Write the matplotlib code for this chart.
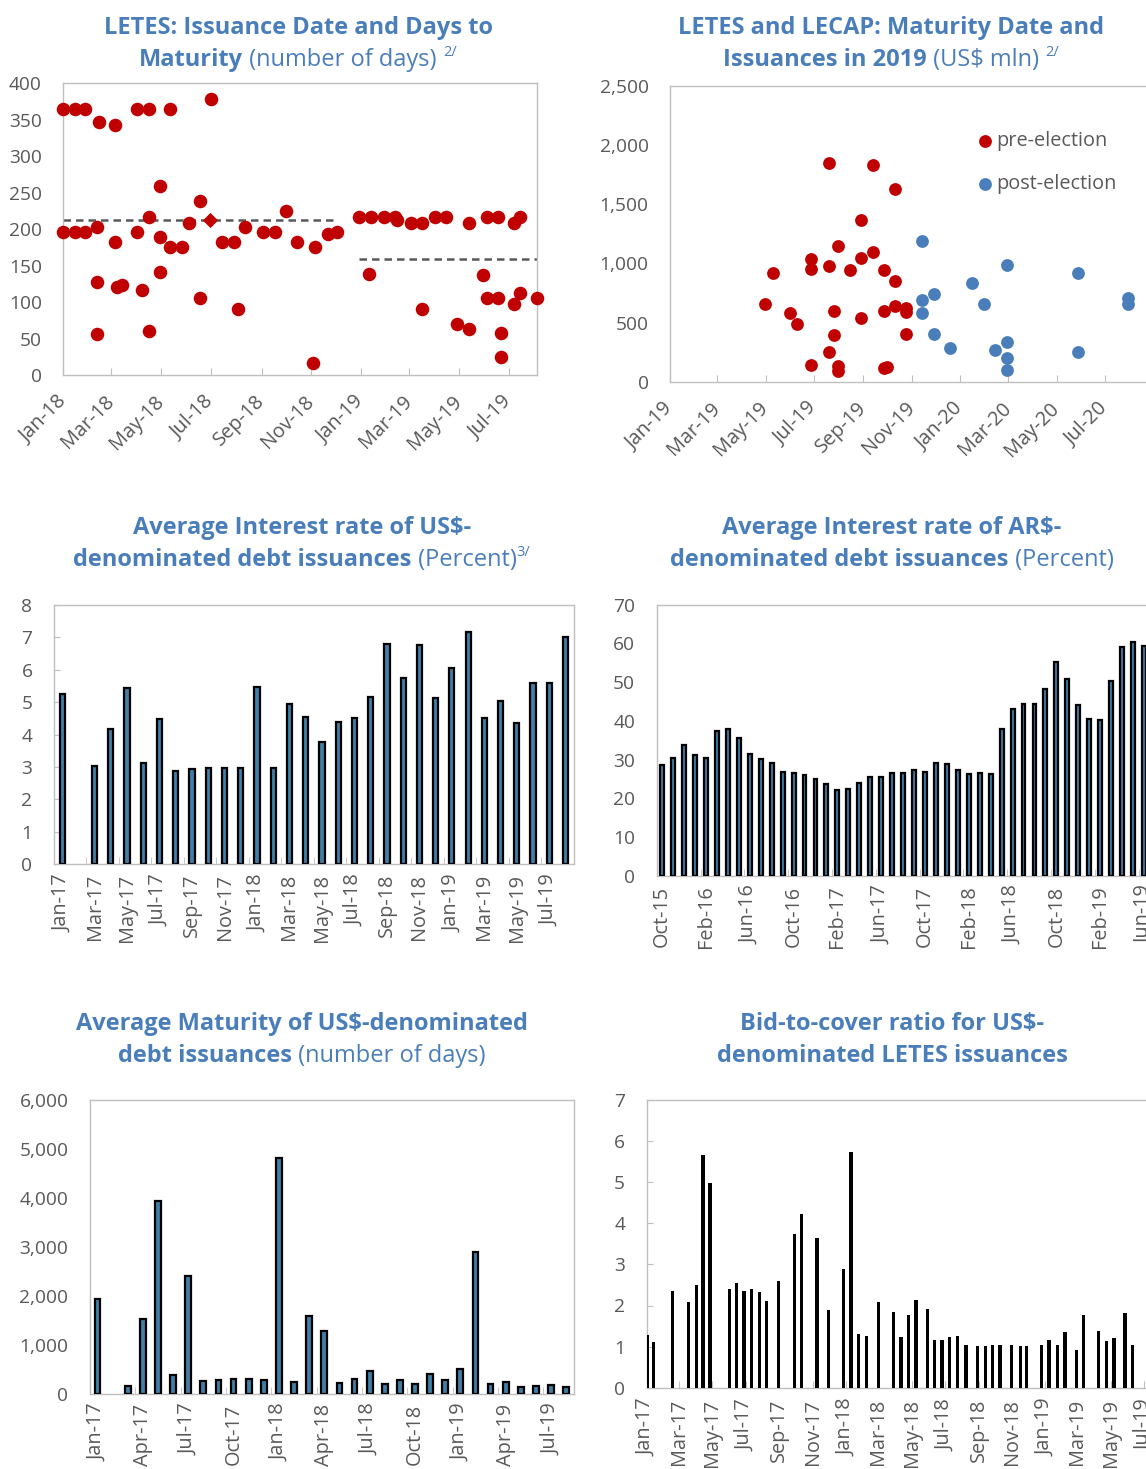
import numpy as np
import pandas as pd
import matplotlib
matplotlib.use("Agg")
import matplotlib.pyplot as plt
import matplotlib.dates as mdates
from matplotlib.ticker import FuncFormatter, FixedLocator

plt.rcParams['font.family'] = ['Open Sans', 'DejaVu Sans']

# --- panel 1: LETES issuance date vs days to maturity ---
letes_dates = ['2018-01-01', '2018-01-01', '2018-01-15', '2018-01-15', '2018-01-28', '2018-01-28',
               '2018-02-11', '2018-02-11', '2018-02-11', '2018-02-14',
               '2018-03-05', '2018-03-05', '2018-03-08', '2018-03-14',
               '2018-04-01', '2018-04-01', '2018-04-08', '2018-04-16', '2018-04-16', '2018-04-16',
               '2018-04-30', '2018-04-30', '2018-04-30', '2018-05-12', '2018-05-12', '2018-05-27',
               '2018-06-04', '2018-06-18', '2018-06-18', '2018-07-01',
               '2018-07-15', '2018-07-29', '2018-08-03', '2018-08-12', '2018-09-03', '2018-09-17',
               '2018-10-01', '2018-10-14', '2018-11-03', '2018-11-05', '2018-11-22', '2018-12-03',
               '2018-12-30', '2019-01-11', '2019-01-13', '2019-01-29', '2019-02-12', '2019-02-14',
               '2019-03-03', '2019-03-17', '2019-03-17', '2019-04-01', '2019-04-15', '2019-04-29',
               '2019-05-13', '2019-05-13', '2019-05-30', '2019-06-04', '2019-06-04', '2019-06-18',
               '2019-06-18', '2019-06-22', '2019-06-22', '2019-07-08', '2019-07-08', '2019-07-15',
               '2019-07-15', '2019-08-05']
letes_days = [365, 196, 365, 196, 365, 196,
              203, 127, 56, 347,
              343, 182, 120, 123,
              365, 196, 116, 365, 216, 61,
              259, 189, 141, 365, 176, 176,
              209, 239, 106, 378,
              182, 182, 91, 203, 196, 196,
              225, 182, 17, 175, 194, 196,
              216, 139, 216, 216, 216, 212,
              209, 209, 91, 216, 216, 70,
              209, 63, 137, 216, 106, 216,
              106, 58, 24, 209, 97, 216,
              113, 106]
diamond_date = '2018-06-30'
diamond_days = 212
avg_2018 = 212.5
avg_2018_span = ['2018-01-01', '2018-12-04']
avg_2019 = 158.6
avg_2019_span = ['2018-12-30', '2019-08-05']

# --- panel 2: LETES/LECAP maturity date and issuance amount ---
pre_dates = ['2019-04-30', '2019-05-10', '2019-06-01', '2019-06-10', '2019-06-27', '2019-06-27',
             '2019-06-27', '2019-07-20', '2019-07-20', '2019-07-20', '2019-07-26', '2019-07-26',
             '2019-07-31', '2019-07-31', '2019-07-31', '2019-08-15', '2019-08-29', '2019-08-29',
             '2019-08-29', '2019-09-13', '2019-09-13', '2019-09-27', '2019-09-27', '2019-09-27',
             '2019-10-01', '2019-10-11', '2019-10-11', '2019-10-11', '2019-10-25', '2019-10-25',
             '2019-10-25']
pre_amount = [657, 922, 583, 488, 1040, 953,
              138, 1846, 978, 254, 595, 395,
              1144, 135, 87, 944, 1370, 1043,
              538, 1835, 1094, 944, 595, 116,
              127, 1632, 848, 637, 623, 589,
              406]
post_dates = ['2019-11-14', '2019-11-14', '2019-11-14', '2019-11-29', '2019-11-29', '2019-12-19',
              '2020-01-16', '2020-01-31', '2020-02-14', '2020-02-29', '2020-02-29', '2020-02-29',
              '2020-02-29', '2020-05-28', '2020-05-28', '2020-07-30', '2020-07-30']
post_amount = [1189, 688, 583, 741, 403, 285,
               837, 657, 265, 986, 338, 200,
               96, 922, 254, 705, 660]

# --- panel 3: average interest rate, US$ issuances (monthly) ---
usd_rate_months = pd.period_range('2017-01', '2019-08', freq='M')
usd_rate = [5.24, np.nan, 3.04, 4.16, 5.43, 3.11, 4.48, 2.88, 2.93, 2.96, 2.96, 2.96,
            5.47, 2.96, 4.94, 4.55, 3.78, 4.39, 4.52, 5.17, 6.80, 5.75, 6.76, 5.13,
            6.06, 7.15, 4.52, 5.02, 4.35, 5.60, 5.60, 7.02]

# --- panel 4: average interest rate, AR$ issuances (monthly) ---
ars_rate_months = pd.period_range('2015-10', '2019-06', freq='M')
ars_rate = [28.6, 30.5, 33.7, 31.2, 30.5, 37.5, 37.9, 35.6, 31.4, 30.1,
            29.2, 26.9, 26.5, 26.0, 25.0, 23.7, 22.1, 22.4, 23.9, 25.6,
            25.6, 26.5, 26.5, 27.2, 26.9, 29.2, 28.8, 27.2, 26.3, 26.5,
            26.3, 37.9, 43.1, 44.3, 44.3, 48.2, 55.1, 50.9, 44.0, 40.5,
            40.1, 50.3, 59.0, 60.3, 59.3]

# --- panel 5: average maturity, US$ issuances (monthly) ---
usd_mat_months = pd.period_range('2017-01', '2019-08', freq='M')
usd_maturity = [1941, np.nan, 157, 1532, 3943, 381, 2404, 252, 272, 306, 306, 272,
                4808, 232, 1587, 1280, 225, 306, 463, 204, 279, 204, 409, 279,
                511, 2894, 204, 232, 129, 157, 177, 129]

# --- panel 6: bid-to-cover ratio per auction ---
btc_dates = ['2017-01-02', '2017-01-14', '2017-02-17', '2017-03-19', '2017-04-02', '2017-04-14',
             '2017-04-27', '2017-06-01', '2017-06-15', '2017-06-28', '2017-07-12', '2017-07-27',
             '2017-08-09', '2017-08-30', '2017-09-29', '2017-10-12', '2017-11-09', '2017-11-30',
             '2017-12-27', '2018-01-10', '2018-01-24', '2018-02-07', '2018-03-02', '2018-03-29',
             '2018-04-12', '2018-04-26', '2018-05-09', '2018-05-30', '2018-06-12', '2018-06-26',
             '2018-07-10', '2018-07-24', '2018-08-09', '2018-08-30', '2018-09-13', '2018-09-27',
             '2018-10-10', '2018-10-31', '2018-11-16', '2018-11-28', '2018-12-25', '2019-01-08',
             '2019-01-24', '2019-02-06', '2019-02-27', '2019-03-12', '2019-04-09', '2019-04-23',
             '2019-05-07', '2019-05-27', '2019-06-10']
btc_ratio = [1.28, 1.10, 2.36, 2.08, 2.51, 5.65,
             4.98, 2.39, 2.55, 2.36, 2.39, 2.33,
             2.12, 2.60, 3.73, 4.22, 3.64, 1.90,
             2.90, 5.74, 1.31, 1.26, 2.08, 1.84,
             1.23, 1.78, 2.14, 1.91, 1.17, 1.17,
             1.23, 1.26, 1.05, 1.01, 1.01, 1.05,
             1.05, 1.05, 1.01, 1.01, 1.05, 1.17,
             1.05, 1.35, 0.92, 1.78, 1.38, 1.14,
             1.20, 1.81, 1.05]

RED = '#c00000'
BLUE = '#4a7ebb'
BAR = '#3f7fa8'
TITLE_C = '#4a7ebb'
GREY_T = '#595959'
GREY_S = '#bfbfbf'
YTICK_FS = 13.8
XTICK_FS = 14.3

W, H = 1146, 1469
fig = plt.figure(figsize=(W / 100, H / 100), dpi=100)


def ax_px(left, right, top, bottom):
    return fig.add_axes([left / W, 1 - bottom / H, (right - left) / W, (bottom - top) / H])


def style(ax):
    for s in ax.spines.values():
        s.set_color(GREY_S)
        s.set_linewidth(1.0)
    ax.tick_params(axis='both', colors=GREY_S, labelcolor=GREY_T)
    ax.tick_params(axis='y', length=0, pad=15.5, labelsize=YTICK_FS)
    ax.tick_params(axis='x', labelsize=XTICK_FS)


def date_xaxis(ax, rot):
    ax.xaxis.set_major_locator(mdates.MonthLocator(bymonth=[1, 3, 5, 7, 9, 11]))
    ax.xaxis.set_major_formatter(mdates.DateFormatter('%b-%y'))
    ax.tick_params(axis='x', direction='in', length=5)
    if rot == 45:
        ax.tick_params(axis='x', pad=17)
        for lab in ax.get_xticklabels():
            lab.set_rotation(45)
            lab.set_ha('right')
            lab.set_va('center')
            lab.set_rotation_mode('anchor')
    else:
        ax.tick_params(axis='x', labelrotation=90, pad=8)


def cat_xaxis(ax, months, step, n_slots):
    pos = np.arange(len(months))
    ax.set_xlim(-0.5, n_slots - 0.5)
    ax.xaxis.set_major_locator(FixedLocator(pos[::step]))
    ax.set_xticklabels([m.strftime('%b-%y') for m in months[::step]], rotation=90)
    ax.xaxis.set_minor_locator(FixedLocator(np.arange(step - 0.5, n_slots, step)))
    ax.tick_params(axis='x', which='major', length=0, pad=7)
    ax.tick_params(axis='x', which='minor', direction='in', length=5, color=GREY_S)


comma = FuncFormatter(lambda v, p: f'{v:,.0f}')

# panel 1
ax1 = ax_px(63.3, 537.3, 83.3, 375)
style(ax1)
ax1.scatter(pd.to_datetime(letes_dates), letes_days, s=95, color=RED, lw=0, zorder=3, clip_on=False)
ax1.scatter(pd.to_datetime([diamond_date]), [diamond_days], s=60, marker='D', color=RED, lw=0, zorder=3)
ax1.plot(pd.to_datetime(avg_2018_span), [avg_2018] * 2, ls=(0, (3, 2)), color=GREY_T, lw=1.8, zorder=2)
ax1.plot(pd.to_datetime(avg_2019_span), [avg_2019] * 2, ls=(0, (3, 2)), color=GREY_T, lw=1.8, zorder=2)
ax1.set_xlim(pd.Timestamp('2018-01-01'), pd.Timestamp('2019-08-05'))
ax1.set_ylim(0, 400)
ax1.set_yticks(range(0, 401, 50))
date_xaxis(ax1, 45)

# panel 2
ax2 = ax_px(670.1, 1153.5, 86, 381.7)
style(ax2)
ax2.scatter(pd.to_datetime(pre_dates), pre_amount, s=85, color=RED, lw=0, label='pre-election', zorder=3)
ax2.scatter(pd.to_datetime(post_dates), post_amount, s=85, color=BLUE, lw=0, label='post-election', zorder=3)
ax2.set_xlim(pd.Timestamp('2019-01-01'), pd.Timestamp('2020-08-31'))
ax2.set_ylim(0, 2500)
ax2.set_yticks(range(0, 2501, 500))
ax2.yaxis.set_major_formatter(comma)
date_xaxis(ax2, 45)
ax2.legend(loc='upper left', bbox_to_anchor=(961 / W, 1 - 113 / H), bbox_transform=fig.transFigure,
           frameon=False, fontsize=14.3, labelcolor=GREY_T, handlelength=0.6, handletextpad=0.25,
           labelspacing=1.15, scatterpoints=1)

# panel 3
ax3 = ax_px(54, 573.7, 604.7, 864.3)
style(ax3)
ax3.bar(np.arange(len(usd_rate)), usd_rate, width=0.32, color=BAR, edgecolor='black', lw=1.6, zorder=3)
ax3.set_ylim(0, 8)
ax3.set_yticks(range(0, 9))
ax3.tick_params(axis='y', direction='in', length=4, color=GREY_S)
cat_xaxis(ax3, usd_rate_months, 2, len(usd_rate_months))

# panel 4
ax4 = ax_px(656.7, 656.7 + 47 * 10.95, 604.7, 875.7)
style(ax4)
ax4.bar(np.arange(len(ars_rate)), ars_rate, width=0.36, color=BAR, edgecolor='black', lw=1.6, zorder=3)
ax4.set_ylim(0, 70)
ax4.set_yticks(range(0, 71, 10))
cat_xaxis(ax4, ars_rate_months, 4, 47)

# panel 5
ax5 = ax_px(90, 573.7, 1100, 1393.7)
style(ax5)
ax5.bar(np.arange(len(usd_maturity)), usd_maturity, width=0.38, color=BAR, edgecolor='black', lw=1.6, zorder=3)
ax5.set_ylim(0, 6000)
ax5.set_yticks(range(0, 6001, 1000))
ax5.yaxis.set_major_formatter(comma)
cat_xaxis(ax5, usd_mat_months, 3, len(usd_mat_months))

# panel 6
ax6 = ax_px(646.7, 1177.4, 1100, 1387.7)
style(ax6)
ax6.bar(pd.to_datetime(btc_dates), btc_ratio, width=6, color='black', lw=0, zorder=3)
ax6.set_xlim(pd.Timestamp('2017-01-01'), pd.Timestamp('2019-08-31'))
ax6.set_ylim(0, 7)
ax6.tick_params(axis='y', direction='in', length=4, color=GREY_S)
date_xaxis(ax6, 90)


# titles: bold lead + regular tail + superscript note
def rich_line(xc, y_px, parts):
    r = fig.canvas.get_renderer()
    texts = []
    for s, kind in parts:
        fs = 10.5 if kind == 'sup' else 17
        dy = 10 if kind == 'sup' else 0
        t = fig.text(0, 1 - (y_px - dy) / H, s, fontsize=fs, color=TITLE_C,
                     fontweight='bold' if kind == 'b' else 'normal', va='baseline', ha='left')
        texts.append(t)
    widths = [t.get_window_extent(r).width / W for t in texts]
    x = xc / W - sum(widths) / 2
    for t, w in zip(texts, widths):
        t.set_x(x)
        x += w


rich_line(298, 34, [("LETES: Issuance Date and Days to", 'b')])
rich_line(298, 66, [("Maturity", 'b'), (" (number of days) ", 'n'), ("2/", 'sup')])
rich_line(891, 34, [("LETES and LECAP: Maturity Date and", 'b')])
rich_line(891, 66, [("Issuances in 2019", 'b'), (" (US$ mln) ", 'n'), ("2/", 'sup')])
rich_line(302, 534, [("Average Interest rate of US$-", 'b')])
rich_line(302, 566, [("denominated debt issuances", 'b'), (" (Percent)", 'n'), ("3/", 'sup')])
rich_line(892, 534, [("Average Interest rate of AR$-", 'b')])
rich_line(892, 566, [("denominated debt issuances", 'b'), (" (Percent)", 'n')])
rich_line(302, 1030, [("Average Maturity of US$-denominated", 'b')])
rich_line(302, 1062, [("debt issuances", 'b'), (" (number of days)", 'n')])
rich_line(892, 1030, [("Bid-to-cover ratio for US$-", 'b')])
rich_line(892, 1062, [("denominated LETES issuances", 'b')])

fig.savefig('out.png', dpi=100)
